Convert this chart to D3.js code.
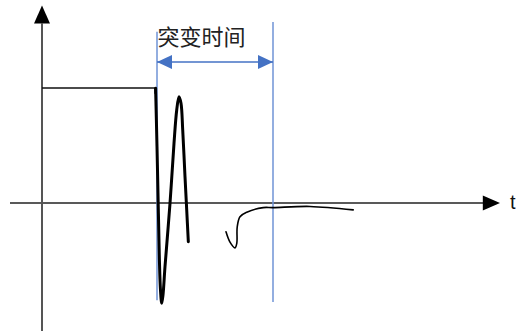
<!DOCTYPE html>
<html lang="zh">
<head>
<meta charset="UTF-8" />
<title>突变时间</title>
<script src="https://d3js.org/d3.v7.min.js"></script>
<style>
  body { margin: 0; background: #fff; }
  svg { display: block; }
</style>
</head>
<body>
<svg width="517" height="331"></svg>
<script>
// signal values, time t and amplitude v
var stepSignal = [[0, 1], [2.825, 1], [2.825, 0.95]];
var oscillation = [
  [2.84, 0.997], [2.875, 0.49], [2.91, -0.09], [2.935, -0.496], [2.962, -0.757],
  [2.993, -0.872], [3.025, -0.8], [3.075, -0.554], [3.2, -0.003], [3.3, 0.519],
  [3.368, 0.809], [3.425, 0.924], [3.475, 0.867], [3.518, 0.635], [3.575, 0.229],
  [3.618, -0.061], [3.658, -0.337]
];
var recovery = [
  [4.6, -0.25], [4.7, -0.34], [4.825, -0.39], [4.87, -0.35], [4.88, -0.21],
  [4.95, -0.12], [5.12, -0.08], [5.53, -0.04], [5.775, -0.04], [6.7, -0.03],
  [7.78, -0.06]
];
var transientStart = 2.875, transientEnd = 5.775;
var labelText = "突变时间";
var axisLabel = "t";

var svg = d3.select("svg");
var x = d3.scaleLinear().domain([0, 10]).range([42, 442]);
var y = d3.scaleLinear().domain([0, 1]).range([203, 88]);

var defs = svg.append("defs");
defs.append("marker")
  .attr("id", "blueHead")
  .attr("viewBox", "0 0 15 14")
  .attr("refX", 15).attr("refY", 7)
  .attr("markerWidth", 15).attr("markerHeight", 14)
  .attr("markerUnits", "userSpaceOnUse")
  .attr("orient", "auto-start-reverse")
  .append("path").attr("d", "M0,0L15,7L0,14Z").attr("fill", "#4472c4");

// axes
svg.append("line")
  .attr("x1", x(-0.8)).attr("x2", x(11.05))
  .attr("y1", y(0)).attr("y2", y(0))
  .attr("stroke", "#222").attr("stroke-width", 1.6);
svg.append("path")
  .attr("d", "M" + x(11.02) + "," + (y(0) - 7.5) + "L" + x(11.45) + "," + y(0) + "L" + x(11.02) + "," + (y(0) + 7.5) + "Z")
  .attr("fill", "#000");
svg.append("text")
  .attr("x", x(11.7)).attr("y", y(0) + 6)
  .attr("font-family", "Liberation Sans, Arial, sans-serif")
  .attr("font-size", 20).attr("fill", "#111")
  .text(axisLabel);

svg.append("line")
  .attr("x1", x(0)).attr("x2", x(0))
  .attr("y1", y(-1.12)).attr("y2", y(1.56))
  .attr("stroke", "#555").attr("stroke-width", 2);
svg.append("path")
  .attr("d", "M" + (x(0) - 8) + "," + y(1.56) + "L" + x(0) + "," + y(1.717) + "L" + (x(0) + 8) + "," + y(1.56) + "Z")
  .attr("fill", "#000");

// transient time markers
svg.append("line")
  .attr("x1", x(transientStart)).attr("x2", x(transientStart))
  .attr("y1", y(1.49)).attr("y2", y(-0.845))
  .attr("stroke", "#6f93d6").attr("stroke-width", 1.5);
svg.append("line")
  .attr("x1", x(transientEnd)).attr("x2", x(transientEnd))
  .attr("y1", y(1.575)).attr("y2", y(-0.86))
  .attr("stroke", "#6f93d6").attr("stroke-width", 1.5);
svg.append("line")
  .attr("x1", x(transientStart)).attr("x2", x(transientEnd))
  .attr("y1", y(1.226)).attr("y2", y(1.226))
  .attr("stroke", "#4472c4").attr("stroke-width", 1.5)
  .attr("marker-start", "url(#blueHead)")
  .attr("marker-end", "url(#blueHead)");
svg.append("text")
  .attr("x", x(transientStart) + 0.5).attr("y", 45)
  .attr("font-family", "Noto Sans CJK SC, sans-serif")
  .attr("font-size", 22).attr("fill", "#222")
  .text(labelText);

// signal
var line = d3.line().x(function (d) { return x(d[0]); }).y(function (d) { return y(d[1]); });
svg.append("path").datum(stepSignal)
  .attr("d", line).attr("fill", "none")
  .attr("stroke", "#111").attr("stroke-width", 1.4);
svg.append("path").datum(oscillation)
  .attr("d", line.curve(d3.curveCatmullRom.alpha(0.5))).attr("fill", "none")
  .attr("stroke", "#000").attr("stroke-width", 3).attr("stroke-linecap", "round");
svg.append("path").datum(recovery)
  .attr("d", line.curve(d3.curveCatmullRom.alpha(0.5))).attr("fill", "none")
  .attr("stroke", "#000").attr("stroke-width", 1.6).attr("stroke-linecap", "round");
</script>
</body>
</html>
